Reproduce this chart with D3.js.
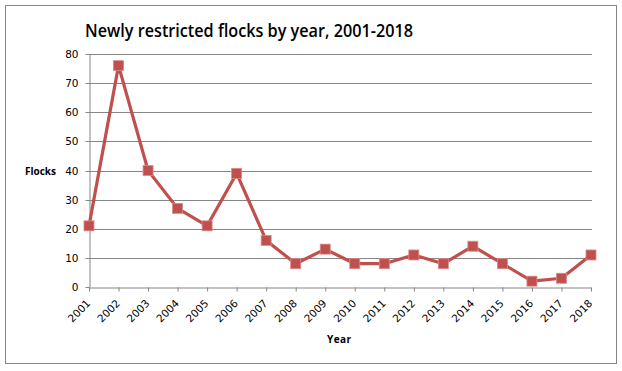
<!DOCTYPE html>
<html>
<head>
<meta charset="utf-8">
<script src="https://cdn.jsdelivr.net/npm/d3@7"></script>
<style>
  body { margin: 0; background: #fff; }
  text { fill: #000; }
</style>
</head>
<body>
<div id="main"></div>
<script>
const years = ["2001","2002","2003","2004","2005","2006","2007","2008","2009",
               "2010","2011","2012","2013","2014","2015","2016","2017","2018"]
const flocks = [21, 76, 40, 27, 21, 39, 16, 8, 13, 8, 8, 11, 8, 14, 8, 2, 3, 11]
const yTicks = [0, 10, 20, 30, 40, 50, 60, 70, 80]

const W = 622, H = 371
const plotL = 89, plotR = 591, plotT = 54, plotB = 287
const red = "#C0504D"

const svg = d3.select('div#main').append('svg')
  .attr('width', W)
  .attr('height', H)

// outer chart border
svg.append('rect')
  .attr('x', 5.5).attr('y', 5.5)
  .attr('width', 611).attr('height', 358)
  .attr('fill', '#fff')
  .attr('stroke', '#868686')

const x = d3.scalePoint().domain(years).range([plotL, plotR])
const y = d3.scaleLinear().domain([0, 80]).range([plotB, plotT])

// gridlines
svg.append('g')
  .selectAll('line')
  .data(yTicks.slice(1))
  .enter()
  .append('line')
    .attr('x1', plotL).attr('x2', plotR + 1)
    .attr('y1', d => Math.round(y(d)) + 0.5)
    .attr('y2', d => Math.round(y(d)) + 0.5)
    .attr('stroke', '#868686')

// y axis
const yAxis = svg.append('g')
  .attr('transform', `translate(${plotL + 0.5},0)`)
  .call(d3.axisLeft(y).tickValues(yTicks).tickSize(4).tickPadding(7).tickSizeOuter(0))
yAxis.select('.domain').attr('stroke', '#868686')
yAxis.selectAll('.tick line').attr('stroke', '#868686')
yAxis.selectAll('.tick').attr('transform', d => `translate(0,${Math.round(y(d)) + 0.5})`)
yAxis.selectAll('text')
  .attr('font-family', 'DejaVu Sans, Verdana, sans-serif')
  .attr('font-size', '10.5px')
  .attr('fill', '#000')

// x axis
const xAxis = svg.append('g')
  .attr('transform', `translate(0,${plotB + 0.5})`)
  .call(d3.axisBottom(x).tickSize(4).tickSizeOuter(0))
xAxis.select('.domain').attr('stroke', '#868686')
xAxis.selectAll('.tick line').attr('stroke', '#868686')
xAxis.selectAll('text')
  .attr('font-family', 'DejaVu Sans, Verdana, sans-serif')
  .attr('font-size', '10.5px')
  .attr('fill', '#000')
  .attr('text-anchor', 'end')
  .attr('x', 0)
  .attr('y', 0)
  .attr('dy', '0.35em')
  .attr('transform', 'translate(-1,14) rotate(-45)')

// series line
const line = d3.line()
  .x((d, i) => x(years[i]))
  .y(d => y(d))

svg.append('path')
  .attr('d', line(flocks))
  .attr('fill', 'none')
  .attr('stroke', red)
  .attr('stroke-width', 3.2)
  .attr('stroke-linejoin', 'round')

svg.selectAll('rect.marker')
  .data(flocks)
  .enter()
  .append('rect')
    .attr('class', 'marker')
    .attr('x', (d, i) => x(years[i]) - 5)
    .attr('y', d => y(d) - 5)
    .attr('width', 10)
    .attr('height', 10)
    .attr('fill', red)
    .attr('stroke', '#D98B89')
    .attr('stroke-width', 0.8)

// titles
svg.append('text')
  .attr('x', 85).attr('y', 37)
  .attr('font-family', 'Open Sans, Liberation Sans, sans-serif')
  .attr('font-weight', 600)
  .attr('font-size', '17.5px')
  .attr('textLength', 328)
  .attr('lengthAdjust', 'spacingAndGlyphs')
  .text('Newly restricted flocks by year, 2001-2018')

svg.append('text')
  .attr('x', 25).attr('y', 175)
  .attr('font-family', 'Open Sans, Liberation Sans, sans-serif')
  .attr('font-weight', 700)
  .attr('font-size', '10px')
  .attr('textLength', 31)
  .text('Flocks')

svg.append('text')
  .attr('x', 327).attr('y', 343)
  .attr('font-family', 'Open Sans, Liberation Sans, sans-serif')
  .attr('font-weight', 700)
  .attr('font-size', '10px')
  .attr('textLength', 24)
  .text('Year')
</script>
</body>
</html>
